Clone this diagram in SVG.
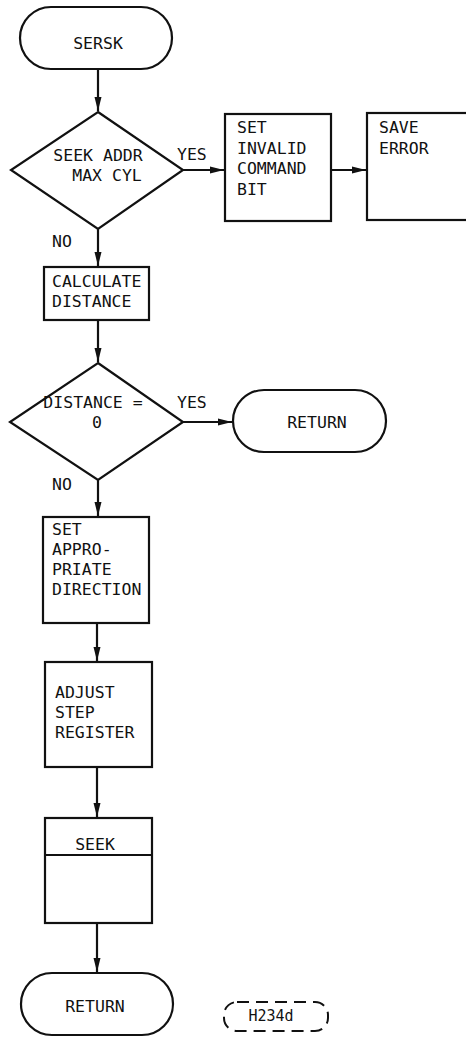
<svg xmlns="http://www.w3.org/2000/svg" width="466" height="1037" viewBox="0 0 466 1037">
<style>
.s{fill:#fff;stroke:#111;stroke-width:2.2}
.t{font-family:"DejaVu Sans Mono","Liberation Mono",monospace;font-size:16.5px;fill:#111}
.c{text-anchor:middle}
.e{stroke:#111;stroke-width:2.2;fill:none}
</style>
<defs>
<marker id="ah" viewBox="0 0 14 8" refX="14" refY="4" markerWidth="14" markerHeight="8" markerUnits="userSpaceOnUse" orient="auto">
<path d="M0,0.5 L14,4 L0,7.5 Z" fill="#111"/>
</marker>
</defs>
<rect width="466" height="1037" fill="#fff"/>
<g id="connectors">
<line class="e" x1="98" y1="69" x2="98" y2="111" marker-end="url(#ah)"/>
<line class="e" x1="183" y1="170" x2="224" y2="170" marker-end="url(#ah)"/>
<line class="e" x1="331" y1="170" x2="366" y2="170" marker-end="url(#ah)"/>
<line class="e" x1="98" y1="229" x2="98" y2="266" marker-end="url(#ah)"/>
<line class="e" x1="98" y1="320" x2="98" y2="362" marker-end="url(#ah)"/>
<line class="e" x1="183" y1="422" x2="232" y2="422" marker-end="url(#ah)"/>
<line class="e" x1="98" y1="480" x2="98" y2="516" marker-end="url(#ah)"/>
<line class="e" x1="97" y1="623" x2="97" y2="661" marker-end="url(#ah)"/>
<line class="e" x1="97" y1="767" x2="97" y2="817" marker-end="url(#ah)"/>
<line class="e" x1="97" y1="923" x2="97" y2="972" marker-end="url(#ah)"/>
<text class="t" x="177" y="160">YES</text>
<text class="t" x="52" y="247">NO</text>
<text class="t" x="177" y="408">YES</text>
<text class="t" x="52" y="490">NO</text>
</g>
<g id="sersk">
<rect class="s" x="20" y="7" width="152" height="62" rx="31"/>
<text class="t c" x="98" y="49">SERSK</text>
</g>
<g id="seekaddr">
<polygon class="s" points="98,112 183,170 98,229 11,170"/>
<text class="t c" x="98" y="161">SEEK ADDR</text>
<text class="t c" x="107" y="181">MAX CYL</text>
</g>
<g id="setinvalid">
<rect class="s" x="225" y="114" width="106" height="107"/>
<text class="t" x="237" y="133">SET</text>
<text class="t" x="237" y="154">INVALID</text>
<text class="t" x="237" y="174">COMMAND</text>
<text class="t" x="237" y="195">BIT</text>
</g>
<g id="saveerror">
<rect class="s" x="367" y="113" width="110" height="107"/>
<text class="t" x="379" y="133">SAVE</text>
<text class="t" x="379" y="154">ERROR</text>
</g>
<g id="calc">
<rect class="s" x="44" y="267" width="105" height="53"/>
<text class="t" x="52" y="287">CALCULATE</text>
<text class="t" x="52" y="307">DISTANCE</text>
</g>
<g id="dist0">
<polygon class="s" points="98,363 183,422 98,480 10,422"/>
<text class="t c" x="93" y="408">DISTANCE =</text>
<text class="t c" x="97" y="428">0</text>
</g>
<g id="return1">
<rect class="s" x="233" y="390" width="153" height="62" rx="31"/>
<text class="t c" x="317" y="428">RETURN</text>
</g>
<g id="setdir">
<rect class="s" x="43" y="517" width="106" height="106"/>
<text class="t" x="52" y="535">SET</text>
<text class="t" x="52" y="555">APPRO-</text>
<text class="t" x="52" y="575">PRIATE</text>
<text class="t" x="52" y="595">DIRECTION</text>
</g>
<g id="adjust">
<rect class="s" x="45" y="662" width="107" height="105"/>
<text class="t" x="55" y="698">ADJUST</text>
<text class="t" x="55" y="718">STEP</text>
<text class="t" x="55" y="738">REGISTER</text>
</g>
<g id="seek">
<rect class="s" x="45" y="818" width="107" height="105"/>
<line class="e" x1="45" y1="855" x2="152" y2="855"/>
<text class="t c" x="95" y="850">SEEK</text>
</g>
<g id="return2">
<rect class="s" x="21" y="973" width="152" height="62" rx="31"/>
<text class="t c" x="95" y="1012">RETURN</text>
</g>
<g id="label">
<rect x="224" y="1002" width="104" height="29" rx="13" fill="none" stroke="#111" stroke-width="2" stroke-dasharray="12,7"/>
<text class="t c" x="271" y="1021" style="font-size:15px">H234d</text>
</g>
</svg>
